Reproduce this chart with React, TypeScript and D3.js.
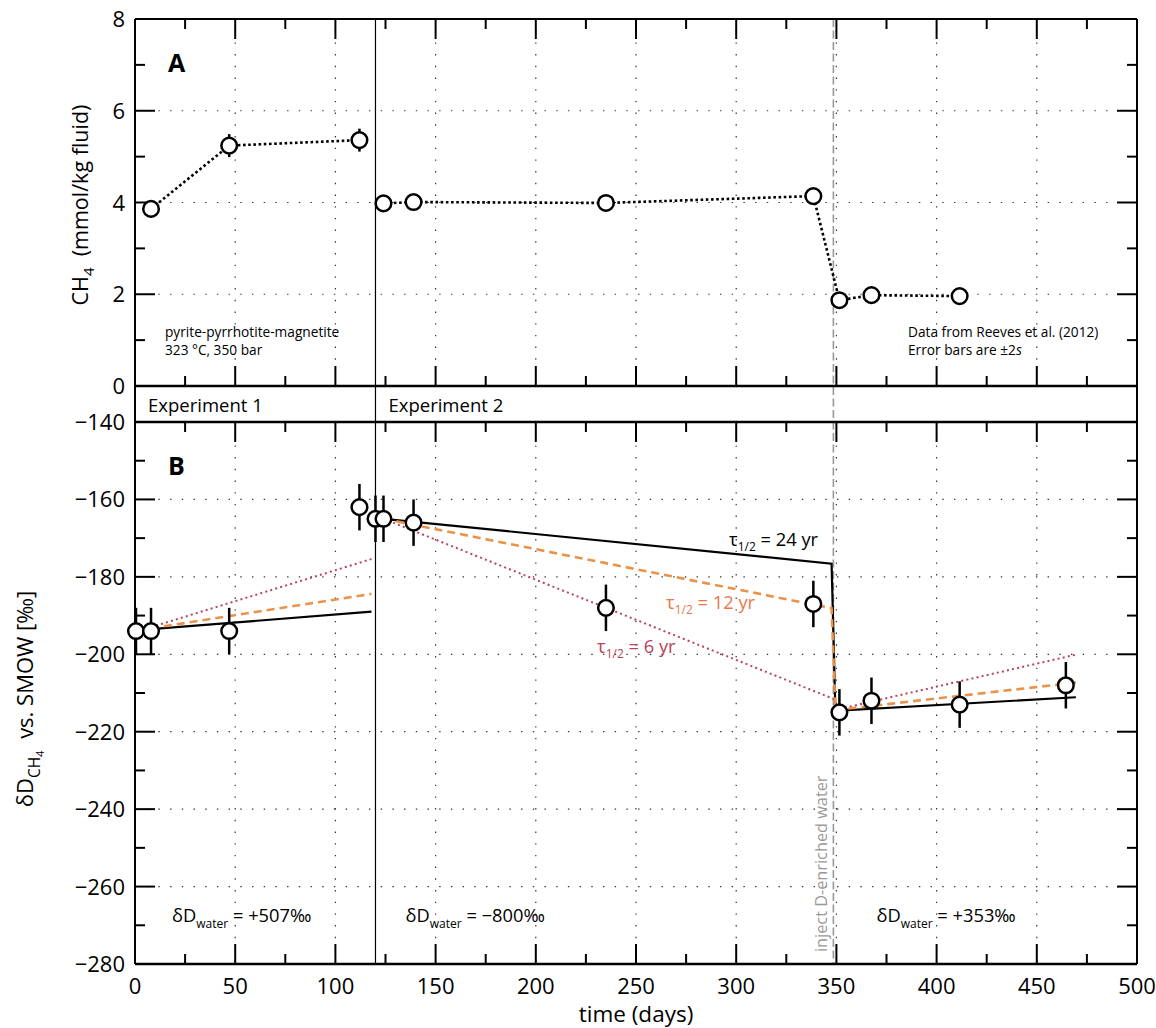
import React from "react";
import * as d3 from "d3";

// ---- data -------------------------------------------------------------
const xTicks = [0, 50, 100, 150, 200, 250, 300, 350, 400, 450, 500];
const xMinorTicks = [25, 75, 125, 175, 225, 275, 325, 375, 425, 475];
const ch4Ticks = [0, 2, 4, 6, 8];
const ch4MinorTicks = [1, 3, 5, 7];
const dDTicks = [-280, -260, -240, -220, -200, -180, -160, -140];
const dDMinorTicks = [-270, -250, -230, -210, -190, -170, -150];

// Panel A: CH4 concentration (mmol/kg fluid)
const ch4Days = [8, 47, 112, 124, 139, 235, 338.5, 351.5, 367.5, 411.5];
const ch4Values = [3.86, 5.24, 5.36, 3.98, 4.01, 3.99, 4.14, 1.87, 1.98, 1.96];
const ch4Errors = [0.1, 0.25, 0.25, 0.1, 0.1, 0.1, 0.1, 0.1, 0.1, 0.1];
// the dotted connector is broken between the two experiments
const ch4Segments = [
  [0, 1, 2],
  [3, 4, 5, 6, 7, 8, 9],
];

// Panel B: deltaD of methane (permil vs. SMOW)
const dDDays = [0.5, 8, 47, 112, 120, 124, 139, 235, 338.5, 351.5, 367.5, 411.5, 464.5];
const dDValues = [-194, -194, -194, -162, -165, -165, -166, -188, -187, -215, -212, -213, -208];
const dDErrors = [6, 6, 6, 6, 6, 6, 6, 6, 6, 6, 6, 6, 6];

// Exchange model curves for three half-lives
const model24yr = [
  [[8, -193.5], [118, -189.0]],
  [[124, -165.0], [347.6, -176.6], [349.5, -214.6], [469.5, -211.1]],
];
const model12yr = [
  [[8, -193.3], [118, -184.4]],
  [[124, -165.0], [347.6, -188.1], [349.5, -214.4], [469.5, -207.3]],
];
const model6yr = [
  [[8, -193.0], [118, -175.4]],
  [[124, -165.0], [348.5, -211.5], [350, -214.3], [469.5, -200.1]],
];

const experimentStart = [0, 120];
const experimentNames = ["Experiment 1", "Experiment 2"];
const injectionDay = 348.5;
const waterDayLabels = [18.5, 135, 370];
const waterValues = ["+507‰", "−800‰", "+353‰"];

// ---- layout -----------------------------------------------------------
const W = 1156;
const H = 1028;
const L = 135;
const R = 1137;
const A_TOP = 19;
const A_BOT = 386;
const B_TOP = 422;
const B_BOT = 964;
const FONT = "'Open Sans', 'Noto Sans', sans-serif";

const BLACK = "#000";
const ORANGE = "#e8924a";
const ORANGE_TEXT = "#e8784c";
const RED = "#b8435a";
const GRAY = "#999";

const x = d3.scaleLinear().domain([0, 500]).range([L, R]);
const yA = d3.scaleLinear().domain([0, 8]).range([A_BOT, A_TOP]);
const yB = d3.scaleLinear().domain([-280, -140]).range([B_BOT, B_TOP]);

const lineA = d3
  .line<number>()
  .x((i) => x(ch4Days[i]))
  .y((i) => yA(ch4Values[i]));
const lineB = d3
  .line<number[]>()
  .x((d) => x(d[0]))
  .y((d) => yB(d[1]));

const MAJOR = 20;
const MINOR = 10;

function HTicks({ top, bottom }: { top: number; bottom: number }) {
  return (
    <g stroke={BLACK} strokeWidth={2}>
      {xTicks.slice(1, -1).map((t) => (
        <g key={"M" + t}>
          <line x1={x(t)} x2={x(t)} y1={top} y2={top + MAJOR} />
          <line x1={x(t)} x2={x(t)} y1={bottom} y2={bottom - MAJOR} />
        </g>
      ))}
      {xMinorTicks.map((t) => (
        <g key={"m" + t}>
          <line x1={x(t)} x2={x(t)} y1={top} y2={top + MINOR} />
          <line x1={x(t)} x2={x(t)} y1={bottom} y2={bottom - MINOR} />
        </g>
      ))}
    </g>
  );
}

function VTicks({
  scale,
  major,
  minor,
}: {
  scale: d3.ScaleLinear<number, number>;
  major: number[];
  minor: number[];
}) {
  return (
    <g stroke={BLACK} strokeWidth={2}>
      {major.map((t) => (
        <g key={"M" + t}>
          <line x1={L} x2={L + MAJOR} y1={scale(t)} y2={scale(t)} />
          <line x1={R} x2={R - MAJOR} y1={scale(t)} y2={scale(t)} />
        </g>
      ))}
      {minor.map((t) => (
        <g key={"m" + t}>
          <line x1={L} x2={L + MINOR} y1={scale(t)} y2={scale(t)} />
          <line x1={R} x2={R - MINOR} y1={scale(t)} y2={scale(t)} />
        </g>
      ))}
    </g>
  );
}

function Grid({
  scale,
  values,
  top,
  bottom,
}: {
  scale: d3.ScaleLinear<number, number>;
  values: number[];
  top: number;
  bottom: number;
}) {
  return (
    <g stroke="#333" strokeWidth={1.2} strokeDasharray="1.4 10.3">
      {xTicks.slice(1, -1).map((t) => (
        <line key={"v" + t} x1={x(t)} x2={x(t)} y1={top} y2={bottom} />
      ))}
      {values.map((v) => (
        <line key={"h" + v} x1={L} x2={R} y1={scale(v)} y2={scale(v)} />
      ))}
    </g>
  );
}

function Tau({ xPos, yPos, value, color }: { xPos: number; yPos: number; value: string; color: string }) {
  return (
    <text x={xPos} y={yPos} fontSize={18.3} fill={color} fontFamily={FONT}>
      τ
      <tspan dy={5} fontSize={12}>
        1/2
      </tspan>
      <tspan dy={-5}> = {value} yr</tspan>
    </text>
  );
}

export default function App() {
  return (
    <svg
      width={W}
      height={H}
      viewBox={`0 0 ${W} ${H}`}
      style={{ position: "absolute", left: 0, top: 0, background: "#fff" }}
      fontFamily={FONT}
    >
      <rect x={0} y={0} width={W} height={H} fill="#fff" />

      {/* dotted grids */}
      <Grid scale={yA} values={[2, 4, 6]} top={A_TOP} bottom={A_BOT} />
      <Grid scale={yB} values={[-260, -240, -220, -200, -180, -160]} top={B_TOP} bottom={B_BOT} />

      {/* injection marker */}
      <line
        x1={x(injectionDay)}
        x2={x(injectionDay)}
        y1={A_TOP}
        y2={B_BOT}
        stroke={GRAY}
        strokeWidth={1.6}
        strokeDasharray="8 3.5"
      />
      <text
        transform={`translate(827,${B_BOT - 12}) rotate(-90)`}
        fontSize={16.3}
        fill={GRAY}
      >
        inject D-enriched water
      </text>

      {/* experiment boundary */}
      <line x1={x(experimentStart[1])} x2={x(experimentStart[1])} y1={A_TOP} y2={B_BOT} stroke={BLACK} strokeWidth={1.2} />

      {/* frames */}
      <g fill="none" stroke={BLACK} strokeWidth={2}>
        <line x1={L} x2={R} y1={A_TOP} y2={A_TOP} />
        <line x1={L} x2={R} y1={A_BOT} y2={A_BOT} strokeWidth={2.5} />
        <line x1={L} x2={R} y1={B_TOP} y2={B_TOP} strokeWidth={2.5} />
        <line x1={L} x2={R} y1={B_BOT} y2={B_BOT} strokeWidth={2.5} />
        <line x1={L} x2={L} y1={A_TOP} y2={B_BOT} />
        <line x1={R} x2={R} y1={A_TOP} y2={B_BOT} />
      </g>

      <HTicks top={A_TOP} bottom={A_BOT} />
      <HTicks top={B_TOP} bottom={B_BOT} />
      <VTicks scale={yA} major={ch4Ticks} minor={ch4MinorTicks} />
      <VTicks scale={yB} major={dDTicks} minor={dDMinorTicks} />

      {/* tick labels */}
      <g fontSize={22} fill={BLACK}>
        {xTicks.map((t) => (
          <text key={t} x={x(t)} y={B_BOT + 30} textAnchor="middle">
            {t}
          </text>
        ))}
        {ch4Ticks.map((t) => (
          <text key={"a" + t} x={L - 10} y={yA(t) + 8} textAnchor="end">
            {t}
          </text>
        ))}
        {dDTicks.map((t) => (
          <text key={"b" + t} x={L - 10} y={yB(t) + 8} textAnchor="end">
            {d3.format("")(t).replace("-", "−")}
          </text>
        ))}
      </g>

      {/* axis titles */}
      <text x={(L + R) / 2} y={1022} textAnchor="middle" fontSize={22.5}>
        time (days)
      </text>
      <text transform="translate(88,205) rotate(-90)" textAnchor="middle" fontSize={21.5}>
        CH
        <tspan dy={6} fontSize={15}>
          4
        </tspan>
        <tspan dy={-6}>{"\u00a0 (mmol/kg fluid)"}</tspan>
      </text>
      <text transform="translate(33,699) rotate(-90)" textAnchor="middle" fontSize={22}>
        δD
        <tspan dy={7} fontSize={15.5}>
          CH
        </tspan>
        <tspan dy={4} fontSize={11.5}>
          4
        </tspan>
        <tspan dy={-11}>{"\u00a0 vs. SMOW [‰]"}</tspan>
      </text>

      {/* panel letters */}
      <text x={168} y={72} fontSize={25} fontWeight="bold">
        A
      </text>
      <text x={168} y={475} fontSize={25} fontWeight="bold">
        B
      </text>

      {/* experiment band */}
      {experimentNames.map((n, i) => (
        <text key={n} x={x(experimentStart[i]) + 13} y={412} fontSize={18.5}>
          {n}
        </text>
      ))}

      {/* panel A notes */}
      <g fontSize={13.7}>
        <text x={165} y={337}>pyrite-pyrrhotite-magnetite</text>
        <text x={165} y={355}>323 °C, 350 bar</text>
        <text x={908} y={337}>Data from Reeves et al. (2012)</text>
        <text x={908} y={355}>
          Error bars are ±2<tspan fontStyle="italic">s</tspan>
        </text>
      </g>

      {/* water isotopic composition */}
      {waterDayLabels.map((d, i) => (
        <text key={i} x={x(d)} y={922} fontSize={18.3}>
          δD
          <tspan dy={6} fontSize={12}>
            water
          </tspan>
          <tspan dy={-6}> = {waterValues[i]}</tspan>
        </text>
      ))}

      {/* panel A data */}
      {ch4Segments.map((seg, i) => (
        <path
          key={i}
          d={lineA(seg) || ""}
          fill="none"
          stroke={BLACK}
          strokeWidth={2.6}
          strokeDasharray="2.6 2.6"
        />
      ))}
      <g stroke={BLACK} strokeWidth={2.5}>
        {ch4Days.map((d, i) => (
          <line
            key={i}
            x1={x(d)}
            x2={x(d)}
            y1={yA(ch4Values[i] - ch4Errors[i])}
            y2={yA(ch4Values[i] + ch4Errors[i])}
          />
        ))}
      </g>
      <g fill="#fff" stroke={BLACK} strokeWidth={2.5}>
        {ch4Days.map((d, i) => (
          <circle key={i} cx={x(d)} cy={yA(ch4Values[i])} r={7.8} />
        ))}
      </g>

      {/* panel B models */}
      {model6yr.map((seg, i) => (
        <path key={"r" + i} d={lineB(seg) || ""} fill="none" stroke={RED} strokeWidth={2} strokeDasharray="2 3.2" />
      ))}
      {model24yr.map((seg, i) => (
        <path key={"k" + i} d={lineB(seg) || ""} fill="none" stroke={BLACK} strokeWidth={2.2} />
      ))}
      {model12yr.map((seg, i) => (
        <path key={"o" + i} d={lineB(seg) || ""} fill="none" stroke={ORANGE} strokeWidth={2.6} strokeDasharray="8 5" />
      ))}

      <Tau xPos={729} yPos={546} value="24" color={BLACK} />
      <Tau xPos={666} yPos={609} value="12" color={ORANGE_TEXT} />
      <Tau xPos={597} yPos={653} value="6" color={RED} />

      {/* panel B data */}
      <g stroke={BLACK} strokeWidth={2.5}>
        {dDDays.map((d, i) => (
          <line
            key={i}
            x1={x(d)}
            x2={x(d)}
            y1={yB(dDValues[i] - dDErrors[i])}
            y2={yB(dDValues[i] + dDErrors[i])}
          />
        ))}
      </g>
      <g fill="#fff" stroke={BLACK} strokeWidth={2.5}>
        {dDDays.map((d, i) => (
          <circle key={i} cx={x(d)} cy={yB(dDValues[i])} r={7.8} />
        ))}
      </g>
    </svg>
  );
}
